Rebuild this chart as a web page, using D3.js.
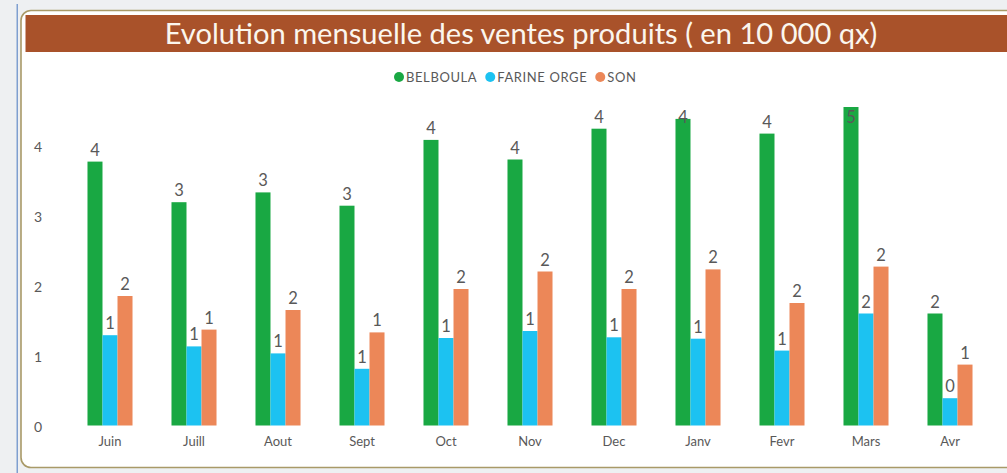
<!DOCTYPE html>
<html>
<head>
<meta charset="utf-8">
<script src="https://cdn.jsdelivr.net/npm/d3@7"></script>
<style>
  html, body { margin: 0; padding: 0; background: #eef0f2; }
  svg { display: block; font-family: Lato, "Open Sans", sans-serif; }
</style>
</head>
<body>
<svg id="chart" width="1007" height="473"></svg>
<script>
// data
var months = ['Juin', 'Juill', 'Aout', 'Sept', 'Oct', 'Nov', 'Dec', 'Janv', 'Fevr', 'Mars', 'Avr'];
var belboula = [3.77, 3.19, 3.33, 3.14, 4.08, 3.80, 4.24, 4.38, 4.17, 4.55, 1.60];
var farineOrge = [1.29, 1.13, 1.03, 0.81, 1.25, 1.35, 1.26, 1.24, 1.07, 1.60, 0.39];
var son = [1.85, 1.37, 1.65, 1.33, 1.95, 2.20, 1.95, 2.23, 1.75, 2.27, 0.87];
var seriesNames = ['BELBOULA', 'FARINE ORGE', 'SON'];
var yTicks = [0, 1, 2, 3, 4];
var title = 'Evolution mensuelle des ventes produits ( en 10 000 qx)';

var colors = ['#19a843', '#1cc2f1', '#ec8758'];
var allSeries = [belboula, farineOrge, son];

var svg = d3.select('#chart');

// left blue rule of the window
svg.append('rect').attr('x', 16.5).attr('y', 4).attr('width', 1.5).attr('height', 473).attr('fill', '#7f9fd0');

// frame
svg.append('rect')
  .attr('x', 21).attr('y', 10.5).attr('width', 1010).attr('height', 457)
  .attr('rx', 10)
  .attr('fill', '#ffffff')
  .attr('stroke', '#a99a68').attr('stroke-width', 1.6);

// title bar
svg.append('rect')
  .attr('x', 25.5).attr('y', 15).attr('width', 990).attr('height', 37)
  .attr('fill', '#a9522a');

var titleText = svg.append('text')
  .attr('x', 521).attr('y', 44)
  .attr('text-anchor', 'middle')
  .attr('fill', '#fbf6ee')
  .attr('font-size', 26)
  .text(title);
var tw = titleText.node().getComputedTextLength();
titleText.attr('font-size', 26 * 713 / tw);

// legend, laid out left to right
var legend = svg.append('g').attr('transform', 'translate(0,77)');
var lx = 394;
seriesNames.forEach(function(name, i) {
  legend.append('circle').attr('cx', lx + 5).attr('cy', 0).attr('r', 5).attr('fill', colors[i]);
  var t = legend.append('text')
    .attr('x', lx + 12).attr('y', 4.5)
    .attr('font-size', 13)
    .attr('letter-spacing', 0.6)
    .attr('fill', '#595959')
    .text(name);
  lx += 12 + t.node().getComputedTextLength() + 8;
});

// scales
var x = d3.scaleBand().domain(months).range([68, 992]).paddingInner(0.464).paddingOuter(0.232);
var x1 = d3.scaleBand().domain(d3.range(3)).range([0, x.bandwidth()]);
var y = d3.scaleLinear().domain([0, 5]).range([425.5, 75.5]);

// axes
var yAxis = svg.append('g')
  .attr('transform', 'translate(50,0)')
  .call(d3.axisLeft(y).tickValues(yTicks).tickSize(0).tickPadding(8).tickFormat(d3.format('d')));
yAxis.select('.domain').remove();
yAxis.selectAll('text').attr('font-size', 14).attr('fill', '#595959').attr('font-family', 'Lato, sans-serif').attr('dy', '0.4em');

var xAxis = svg.append('g')
  .attr('transform', 'translate(0,425.5)')
  .call(d3.axisBottom(x).tickSize(0).tickPadding(11));
xAxis.select('.domain').remove();
xAxis.selectAll('text').attr('font-size', 13).attr('fill', '#595959').attr('font-family', 'Lato, sans-serif');

// bars
var groups = svg.append('g').selectAll('g')
  .data(months)
  .join('g')
  .attr('transform', function(d) { return 'translate(' + x(d) + ',0)'; });

groups.selectAll('rect')
  .data(function(d, mi) { return allSeries.map(function(s, si) { return { si: si, v: s[mi] }; }); })
  .join('rect')
  .attr('x', function(d) { return x1(d.si); })
  .attr('width', x1.bandwidth())
  .attr('y', function(d) { return y(d.v); })
  .attr('height', function(d) { return y(0) - y(d.v); })
  .attr('fill', function(d) { return colors[d.si]; });

groups.selectAll('text.lbl')
  .data(function(d, mi) { return allSeries.map(function(s, si) { return { si: si, v: s[mi] }; }); })
  .join('text')
  .attr('class', 'lbl')
  .attr('x', function(d) { return x1(d.si) + x1.bandwidth() / 2; })
  .attr('y', function(d) { return Math.max(y(d.v) - 12, 117) + 6; })
  .attr('text-anchor', 'middle')
  .attr('font-size', 16.5)
  .attr('fill', '#595959')
  .text(function(d) { return Math.round(d.v); });
</script>
</body>
</html>
